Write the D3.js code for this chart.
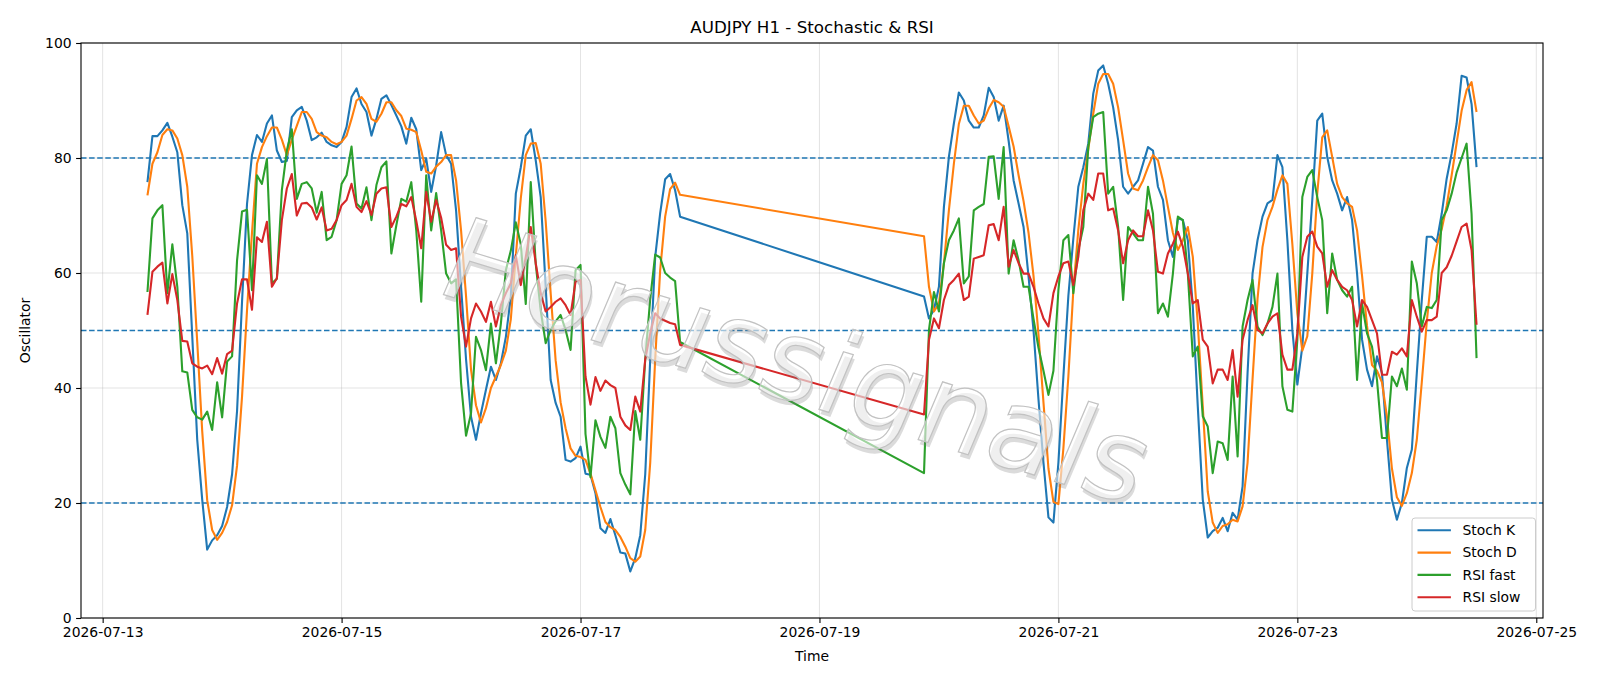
<!DOCTYPE html>
<html>
<head>
<meta charset="utf-8">
<script src="https://cdn.jsdelivr.net/npm/d3@7"></script>
<style>
  body { margin: 0; background: #fff; }
  svg text { font-family: "DejaVu Sans", sans-serif; }
</style>
</head>
<body>
<svg id="chart" width="1600" height="686"></svg>
<script>
// hourly bars, two sessions with the weekend gap between them
const session1 = ["2026-07-13T09:00:00Z", "2026-07-17T20:00:00Z"]
const session2 = ["2026-07-19T21:00:00Z", "2026-07-24T12:00:00Z"]

const stochK1 = [75.8,83.8,83.8,84.8,86.1,83.7,81.0,71.8,66.9,49.0,31.0,20.6,11.9,13.5,14.4,16.0,19.3,25.0,36.0,55.0,
  72.0,80.5,84.0,82.8,86.0,87.4,81.3,79.3,79.5,87.1,88.3,88.9,86.5,83.1,83.6,84.4,82.8,82.2,81.9,82.8,
  85.4,90.6,92.1,89.4,88.0,83.9,86.8,90.3,90.9,89.2,87.4,85.5,82.5,87.0,85.0,77.9,79.9,74.1,78.7,84.5,
  80.5,79.0,70.9,57.6,45.0,35.0,31.0,35.6,39.7,43.7,41.4,44.3,48.9,55.9,73.8,78.4,83.9,85.0,79.6,73.2,
  57.6,41.4,37.4,35.0,27.5,27.2,27.8,29.8,25.1,24.9,21.7,15.6,14.8,17.2,14.4,11.4,11.2,8.1,10.4,14.4,
  25.0,45.0,62.8,70.4,76.3,77.2,74.4,69.8]
const stochK2 = [55.9,52.1,53.6,57.6,71.5,80.2,86.0,91.4,90.0,86.5,85.3,85.3,87.4,92.2,90.6,86.5,89.1,83.0,76.1,72.1,
  68.0,59.4,50.0,38.0,27.0,17.5,16.6,27.0,42.0,56.0,66.0,75.0,78.4,82.5,91.2,95.2,96.1,92.9,88.8,83.1,
  75.0,73.8,75.0,76.1,79.0,81.9,81.3,75.0,72.7,65.7,62.8,69.5,69.2,65.7,54.1,36.8,20.6,14.0,15.1,15.7,
  17.4,15.1,18.3,17.1,22.9,42.6,59.9,65.7,69.8,72.1,72.7,80.5,78.4,65.7,50.1,40.6,47.2,59.9,72.7,86.5,
  87.7,80.2,76.1,73.8,70.9,73.2,69.2,59.9,48.4,43.2,40.3,45.5,42.6,31.0,20.6,17.1,20.0,26.1,29.3,42.6,
  55.3,66.3,66.3,65.4,70.3,76.4,80.8,86.0,94.3,94.0,89.4,78.4]

const stochD1 = [73.5,79.0,81.0,84.0,85.0,84.8,83.4,80.5,75.0,63.0,48.0,32.5,20.5,15.3,13.6,14.8,16.7,19.6,26.5,38.5,
  53.5,67.0,79.0,81.9,83.8,85.3,85.3,83.2,80.5,83.2,85.6,88.0,88.0,86.8,84.5,83.9,83.6,82.8,82.4,82.8,
  83.9,86.8,90.0,90.6,89.4,86.8,86.3,87.7,89.7,89.7,88.3,87.3,85.1,84.9,84.5,81.3,77.6,77.3,78.5,79.3,
  80.5,80.5,76.1,67.4,56.0,43.2,37.0,34.0,36.5,40.0,42.0,44.0,46.5,52.0,63.0,73.0,80.5,82.5,82.6,79.0,
  69.0,56.5,44.8,37.5,33.0,29.5,28.2,28.0,27.5,25.1,22.2,19.3,16.7,15.8,15.3,14.1,12.4,10.4,9.8,10.7,
  15.3,27.0,45.0,60.5,69.8,74.6,75.7,73.6]
const stochD2 = [66.4,57.6,53.3,54.7,61.7,70.9,79.0,85.9,89.1,89.1,87.4,86.0,86.5,88.6,90.1,89.7,88.9,85.5,82.0,77.0,
  72.5,67.0,59.5,49.3,37.5,26.0,20.2,19.8,29.5,42.0,57.0,67.5,75.5,81.5,87.7,92.9,94.6,94.6,92.9,88.8,
  83.1,77.3,74.7,74.4,76.1,78.4,80.5,79.6,76.1,71.5,67.0,64.0,65.7,68.0,62.8,51.2,36.8,22.0,16.6,14.8,
  16.0,16.3,17.1,16.8,19.4,27.0,41.5,55.5,64.5,69.2,71.5,74.5,77.0,75.5,65.0,53.0,46.5,49.0,59.9,73.8,
  83.6,84.8,80.2,75.5,73.2,72.1,71.5,67.4,59.5,50.8,44.0,43.0,41.0,35.0,26.0,21.0,19.5,21.7,25.2,31.0,
  41.0,51.5,60.0,64.7,67.6,71.7,77.0,82.6,88.2,91.8,93.2,88.0]

const rsiFast1 = [56.7,69.5,70.9,71.8,56.5,65.0,57.6,42.9,42.7,36.2,34.9,34.5,35.9,32.7,41.0,34.9,44.6,45.5,62.2,70.7,
  71.0,57.0,77.0,75.5,79.8,58.2,59.0,74.4,81.3,85.0,72.9,75.5,75.8,74.7,70.5,74.1,65.7,66.3,69.2,75.5,
  77.0,82.0,72.1,71.2,74.9,69.2,75.3,78.4,79.4,63.4,68.3,72.9,72.4,75.8,67.4,55.0,77.0,67.4,73.9,67.4,
  59.9,58.2,58.9,40.9,31.7,35.6,48.9,46.6,43.1,51.2,44.3,51.2,60.5,63.9,68.8,65.0,54.6,75.8,61.6,53.5,
  47.8,50.1,51.6,52.7,50.1,46.6,60.5,61.4,32.0,24.5,34.4,31.5,29.6,35.0,33.0,25.2,23.2,21.5,36.0,31.0,
  45.0,55.5,63.2,62.7,60.0,59.2,58.6,48.0]
const rsiFast2 = [25.2,50.1,56.7,53.3,61.7,65.7,67.4,69.5,58.2,59.4,70.9,71.5,72.0,80.2,80.3,72.9,81.9,59.9,65.7,62.2,
  57.6,57.6,52.0,47.0,43.0,38.8,43.0,57.0,65.7,66.6,56.5,64.0,68.0,81.9,87.1,87.7,88.0,73.8,75.0,68.0,
  55.3,68.0,66.9,65.7,65.7,75.0,70.3,53.0,54.7,52.4,59.9,69.8,69.2,59.9,45.5,47.2,35.1,33.3,25.2,30.7,
  30.4,27.5,42.0,28.1,50.7,55.3,58.8,50.7,49.2,51.2,54.1,59.9,40.3,36.2,35.9,48.4,73.2,76.7,77.9,73.2,
  69.2,53.0,63.4,58.8,57.0,55.9,57.6,41.4,54.7,49.5,47.2,41.4,31.3,31.3,42.0,40.3,43.4,39.7,62.0,58.2,
  50.7,54.1,53.9,55.3,69.2,70.9,73.8,77.5,80.0,82.5,70.3,45.2]

const rsiSlow1 = [52.7,60.2,61.1,61.8,54.7,59.8,55.3,48.2,48.1,44.3,43.7,43.4,43.9,42.4,45.2,42.5,45.9,46.5,54.7,58.9,
  58.9,53.6,66.2,65.4,68.9,57.6,59.1,69.2,74.7,77.2,70.0,72.1,72.2,71.4,69.3,71.4,67.4,67.7,69.2,71.8,
  72.7,75.5,71.5,70.6,72.5,70.1,73.8,74.7,74.9,68.0,69.8,72.0,71.6,73.2,69.1,64.3,74.1,68.9,72.7,69.6,
  64.9,64.0,64.3,52.4,47.2,52.1,54.7,53.3,51.5,55.0,50.7,54.4,56.5,58.2,63.1,57.9,62.8,68.0,61.7,56.5,
  53.3,54.1,55.0,55.6,54.4,52.7,58.5,58.8,42.0,37.1,41.9,39.5,41.3,40.5,40.0,35.0,33.5,32.7,38.5,35.9,
  45.0,49.5,53.0,52.1,51.7,51.3,51.1,47.5]
const rsiSlow2 = [35.4,48.4,52.1,50.4,55.3,57.9,58.8,59.9,55.3,55.9,62.5,62.8,63.1,68.3,68.5,65.7,71.5,61.1,64.0,61.7,
  59.9,59.9,57.6,54.7,52.1,50.7,56.5,59.4,61.7,62.0,57.9,62.8,70.9,73.8,72.7,77.3,77.3,70.9,71.2,67.4,
  61.7,65.7,67.4,66.4,66.4,70.9,67.4,60.2,59.9,63.4,65.1,67.2,64.6,59.9,54.7,55.3,48.4,47.2,40.8,43.2,
  43.2,41.4,46.6,38.5,48.4,51.8,54.4,50.1,49.5,51.2,52.4,53.0,45.8,43.2,43.2,49.5,62.8,66.3,67.2,64.6,
  63.4,57.6,60.5,58.8,57.6,57.0,55.3,50.7,55.3,54.1,51.8,49.5,42.3,42.3,46.3,45.8,46.9,45.5,55.3,52.4,
  49.8,51.8,51.8,52.4,60.0,61.0,63.0,65.5,68.0,68.6,64.0,51.0]

const seriesNames = ["Stoch K", "Stoch D", "RSI fast", "RSI slow"]
const seriesColors = ["#1f77b4", "#ff7f0e", "#2ca02c", "#d62728"]
const xTickLabels = ["2026-07-13", "2026-07-15", "2026-07-17", "2026-07-19", "2026-07-21", "2026-07-23", "2026-07-25"]
const yTickValues = [0, 20, 40, 60, 80, 100]
const levelLines = [20, 50, 80]
const watermark = "Horussignals"

window.onload = function () {
  drawChart()
}

function drawChart() {
  var margin = {top: 43, right: 57, bottom: 68, left: 81}
  var width = 1600 - margin.left - margin.right
  var height = 686 - margin.top - margin.bottom

  var times = d3.utcHour.range(new Date(session1[0]), d3.utcHour.offset(new Date(session1[1]), 1))
    .concat(d3.utcHour.range(new Date(session2[0]), d3.utcHour.offset(new Date(session2[1]), 1)))

  var columns = [stochK1.concat(stochK2), stochD1.concat(stochD2),
                 rsiFast1.concat(rsiFast2), rsiSlow1.concat(rsiSlow2)]

  // matplotlib style 5% padding on the time axis
  var t0 = times[0].getTime(), t1 = times[times.length - 1].getTime()
  var pad = (t1 - t0) * 0.05

  var xScale = d3.scaleUtc()
    .domain([new Date(t0 - pad), new Date(t1 + pad)])
    .range([0, width])

  var yScale = d3.scaleLinear()
    .domain([0, 100])
    .range([height, 0])

  var svg = d3.select("#chart")
  var g = svg.append("g")
    .attr("transform", "translate(" + margin.left + "," + margin.top + ")")

  var xTicks = xTickLabels.map(function (s) { return new Date(s + "T00:00:00Z") })

  // grid
  g.append("g").selectAll("line")
    .data(xTicks).enter().append("line")
    .attr("x1", function (d) { return xScale(d) })
    .attr("x2", function (d) { return xScale(d) })
    .attr("y1", 0).attr("y2", height)
    .attr("stroke", "#b0b0b0").attr("stroke-opacity", 0.35).attr("stroke-width", 1)

  g.append("g").selectAll("line")
    .data(yTickValues).enter().append("line")
    .attr("x1", 0).attr("x2", width)
    .attr("y1", function (d) { return yScale(d) })
    .attr("y2", function (d) { return yScale(d) })
    .attr("stroke", "#b0b0b0").attr("stroke-opacity", 0.35).attr("stroke-width", 1)

  // overbought / middle / oversold levels
  g.append("g").selectAll("line")
    .data(levelLines).enter().append("line")
    .attr("x1", 0).attr("x2", width)
    .attr("y1", function (d) { return yScale(d) })
    .attr("y2", function (d) { return yScale(d) })
    .attr("stroke", "#1f77b4").attr("stroke-width", 1.4)
    .attr("stroke-dasharray", "5.5,2.6")

  var line = d3.line()
    .x(function (d, i) { return xScale(times[i]) })
    .y(function (d) { return yScale(d) })

  columns.forEach(function (col, i) {
    g.append("path")
      .datum(col)
      .attr("fill", "none")
      .attr("stroke", seriesColors[i])
      .attr("stroke-width", 2.1)
      .attr("stroke-linejoin", "round")
      .attr("d", line)
  })

  // watermark over the lines: pale letters with a grey drop shadow
  var wm = g.append("g")
    .attr("transform", "translate(" + (782 - margin.left) + "," + (398 - margin.top) + ") rotate(17) skewX(-6)")
  wm.append("text")
    .attr("x", 3).attr("y", 4)
    .attr("text-anchor", "middle")
    .attr("font-size", 114)
    .attr("fill", "#7f7f7f").attr("fill-opacity", 0.28)
    .text(watermark)
  wm.append("text")
    .attr("text-anchor", "middle")
    .attr("font-size", 114)
    .attr("fill", "#ffffff").attr("fill-opacity", 0.55)
    .attr("stroke", "#c2c2c2").attr("stroke-width", 1.2)
    .text(watermark)

  // axes
  var xAxis = g.append("g")
    .attr("transform", "translate(0," + height + ")")
    .call(d3.axisBottom(xScale).tickValues(xTicks).tickSizeOuter(0)
      .tickSize(4.9).tickPadding(4.5).tickFormat(d3.utcFormat("%Y-%m-%d")))
  var yAxis = g.append("g")
    .call(d3.axisLeft(yScale).tickValues(yTickValues).tickSizeOuter(0)
      .tickSize(4.9).tickPadding(4.5))

  ;[xAxis, yAxis].forEach(function (ax) {
    ax.select(".domain").remove()
    ax.selectAll("line").attr("stroke", "#000").attr("stroke-width", 1.1)
    ax.selectAll("text").attr("font-size", 13.9).attr("fill", "#000")
      .attr("font-family", "DejaVu Sans, sans-serif")
  })
  xAxis.selectAll("text").attr("dy", "0.71em")

  g.append("rect")
    .attr("width", width).attr("height", height)
    .attr("fill", "none").attr("stroke", "#000").attr("stroke-width", 1.1)

  // titles
  svg.append("text")
    .attr("x", margin.left + width / 2).attr("y", 33)
    .attr("text-anchor", "middle").attr("font-size", 16.7)
    .text("AUDJPY H1 - Stochastic & RSI")
  svg.append("text")
    .attr("x", margin.left + width / 2).attr("y", 661)
    .attr("text-anchor", "middle").attr("font-size", 13.9)
    .text("Time")
  svg.append("text")
    .attr("transform", "translate(30," + (margin.top + height / 2) + ") rotate(-90)")
    .attr("text-anchor", "middle").attr("font-size", 13.9)
    .text("Oscillator")

  // legend
  var lg = svg.append("g").attr("transform", "translate(1412,518)")
  lg.append("rect")
    .attr("width", 123.5).attr("height", 93).attr("rx", 3)
    .attr("fill", "#fff").attr("fill-opacity", 0.8)
    .attr("stroke", "#cccccc").attr("stroke-width", 1)
  seriesNames.forEach(function (name, i) {
    var yy = 12.3 + i * 22.3
    lg.append("line")
      .attr("x1", 5.5).attr("x2", 38.9).attr("y1", yy).attr("y2", yy)
      .attr("stroke", seriesColors[i]).attr("stroke-width", 2.1)
    lg.append("text")
      .attr("x", 50.5).attr("y", yy).attr("dy", "0.35em")
      .attr("font-size", 13.9)
      .text(name)
  })
}
</script>
</body>
</html>
